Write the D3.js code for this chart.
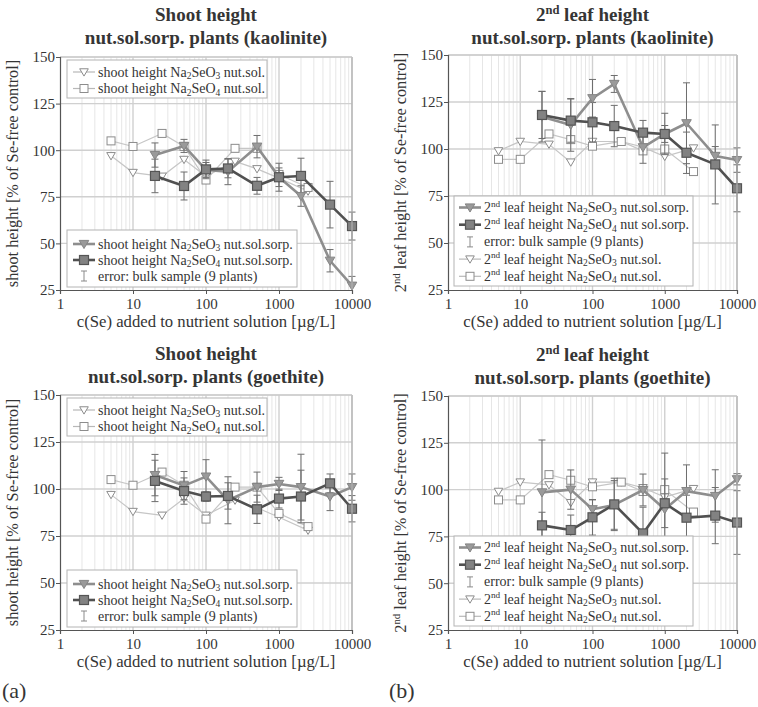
<!DOCTYPE html>
<html>
<head>
<meta charset="utf-8">
<script src="https://cdn.jsdelivr.net/npm/d3@7/dist/d3.min.js"></script>
<style>
  body { margin: 0; background: #fff; }
  text { font-family: "Liberation Serif", "Times New Roman", serif; fill: #353535; }
</style>
</head>
<body>
<svg id="chart" width="758" height="707"></svg>
<script>
// Se concentrations (µg/L)
const concNutSol = [5, 10, 25, 50, 100, 250, 500, 1000, 2500];
const concSorp = [20, 50, 100, 200, 500, 1000, 2000, 5000, 10000];
const xTicks = [1, 10, 100, 1000, 10000];
const yTicks = [25, 50, 75, 100, 125, 150];

// reference plants grown in plain nutrient solution (% of Se-free control)
const shootNutSolSeO3 = [97, 88, 86, 95, 86, 94, 90, 85, 78];
const shootNutSolSeO4 = [105, 102, 109, 102, 84, 101, 101, 87, 80];
const leafNutSolSeO3 = [99, 104, 102.5, 93, 104, 104, 101, 96, 100.5];
const leafNutSolSeO4 = [94.5, 94.5, 108, 105, 101.5, 104, 99, 100, 88];

// kaolinite sorption plants
const shootKaoSeO3 = [97.4, 102.3, 89.4, 88.5, 101.9, 85.5, 75.4, 40.7, 27.3];
const shootKaoSeO3Err = [6.5, 3.5, 4, 7, 6, 5, 5.5, 6, 5];
const shootKaoSeO4 = [86.2, 80.8, 89.7, 90.2, 80.9, 85.5, 86.2, 70.8, 59.3];
const shootKaoSeO4Err = [9, 7.5, 5, 5, 4.5, 7.5, 9.5, 12.5, 7.5];
const leafKaoSeO3 = [117.2, 112.8, 127, 134.6, 100.9, 108, 113.7, 96.3, 94.1];
const leafKaoSeO3Err = [13.5, 14, 10, 4.5, 8.5, 4.5, 21.5, 5, 6.5];
const leafKaoSeO4 = [118.1, 115.1, 114.2, 112.2, 108.7, 108, 98, 91.8, 79.1];
const leafKaoSeO4Err = [12.5, 11.5, 10.5, 11, 6.5, 11, 11, 21, 12.5];

// goethite sorption plants
const shootGoeSeO3 = [107.4, 101.8, 106.6, 94, 101, 102.7, 101, 96, 101];
const shootGoeSeO3Err = [11, 7.5, 9, 12.5, 8, 3.5, 17.5, 7.5, 7];
const shootGoeSeO4 = [104.3, 98.9, 96, 96.3, 89.2, 94.9, 96, 103, 89.5];
const shootGoeSeO4Err = [11, 7, 2.5, 7, 7.5, 5, 14, 5, 7];
const leafGoeSeO3 = [98.5, 100, 89.5, 91.8, 99.8, 89.5, 99.2, 96.6, 105.5];
const leafGoeSeO3Err = [28, 10.5, 5, 13, 8.5, 30, 14, 14, 3];
const leafGoeSeO4 = [80.9, 78.4, 85.2, 92.1, 76.6, 92.7, 85, 86.1, 82.4];
const leafGoeSeO4Err = [7, 8, 9.5, 14, 14, 13, 12, 15, 17];

const xLabel = "c(Se) added to nutrient solution [µg/L]";

const SUB = "sub", SUP = "sup";
const salt3 = ["Na", ["2", SUB], "SeO", ["3", SUB]];
const salt4 = ["Na", ["2", SUB], "SeO", ["4", SUB]];
const leafPre = ["2", ["nd", SUP], " leaf height "];

const styles = {
  nutSeO3: { kind: "nut", marker: "tri" },
  nutSeO4: { kind: "nut", marker: "sq" },
  sorpSeO3: { kind: "sorp", marker: "tri", color: "#8e8e8e", fill: "#9a9a9a", stroke: "#858585" },
  sorpSeO4: { kind: "sorp", marker: "sq", color: "#505050", fill: "#828282", stroke: "#555555" },
  err: { kind: "err" }
};

const svg = d3.select("#chart");
const defs = svg.append("defs");

// writes text made of plain / subscript / superscript pieces
function rich(sel, parts, size) {
  let shift = 0;
  parts.forEach(p => {
    const [s, mode] = Array.isArray(p) ? p : [p, null];
    const t = sel.append("tspan").text(s);
    let target = 0;
    if (mode === SUB) { t.attr("font-size", size * 0.68); target = size * 0.18; }
    else if (mode === SUP) { t.attr("font-size", size * 0.66); target = -size * 0.38; }
    if (target !== shift) { t.attr("dy", target - shift); shift = target; }
  });
}

function marker(g, type, cx, cy, st, open) {
  if (type === "tri") {
    const r = open ? 4.3 : 4.8;
    g.append("path")
      .attr("d", `M${cx - r},${cy - r * 0.75}L${cx + r},${cy - r * 0.75}L${cx},${cy + r * 0.95}Z`)
      .attr("fill", open ? "#fff" : st.fill)
      .attr("stroke", open ? "#8c8c8c" : st.stroke)
      .attr("stroke-width", 1);
  } else {
    const r = open ? 4 : 4.5;
    g.append("rect")
      .attr("x", cx - r).attr("y", cy - r).attr("width", 2 * r).attr("height", 2 * r)
      .attr("fill", open ? "#fff" : st.fill)
      .attr("stroke", open ? "#8c8c8c" : st.stroke)
      .attr("stroke-width", open ? 1 : 1.2);
  }
}

function drawPanel(p, idx) {
  const x = d3.scaleLog().domain([1, 10000]).range([p.left, p.right]);
  const y = d3.scaleLinear().domain([25, 150]).range([p.bottom, p.top]);
  const g = svg.append("g");

  // grid
  const minor = [];
  for (let k = 0; k < 4; k++) for (let m = 2; m <= 9; m++) minor.push(m * Math.pow(10, k));
  g.append("g").selectAll("line").data(minor).join("line")
    .attr("x1", d => x(d)).attr("x2", d => x(d))
    .attr("y1", p.top).attr("y2", p.bottom)
    .attr("stroke", "#e6e6e6").attr("stroke-width", 1);
  g.append("g").selectAll("line").data(xTicks.slice(1)).join("line")
    .attr("x1", d => x(d)).attr("x2", d => x(d))
    .attr("y1", p.top).attr("y2", p.bottom)
    .attr("stroke", "#d0d0d0").attr("stroke-width", 1.4);
  g.append("g").selectAll("line").data(yTicks.slice(1)).join("line")
    .attr("x1", p.left).attr("x2", p.right)
    .attr("y1", d => y(d)).attr("y2", d => y(d))
    .attr("stroke", "#d0d0d0").attr("stroke-width", 1.4);

  const clipId = "clip" + idx;
  defs.append("clipPath").attr("id", clipId).append("rect")
    .attr("x", p.left - 6).attr("y", p.top).attr("width", p.right - p.left + 12).attr("height", p.bottom - p.top);
  const data = g.append("g").attr("clip-path", `url(#${clipId})`);

  // nutrient solution reference series
  const line = d3.line().x(d => x(d[0])).y(d => y(d[1]));
  [[p.nutSeO3, "tri"], [p.nutSeO4, "sq"]].forEach(([vals, mk]) => {
    const pts = concNutSol.map((c, i) => [c, vals[i]]);
    data.append("path").attr("d", line(pts)).attr("fill", "none")
      .attr("stroke", "#c6c6c6").attr("stroke-width", 1.2);
    pts.forEach(d => marker(data, mk, x(d[0]), y(d[1]), null, true));
  });

  // error bars of sorption series
  [[p.sorpSeO3, p.sorpSeO3Err], [p.sorpSeO4, p.sorpSeO4Err]].forEach(([vals, errs]) => {
    concSorp.forEach((c, i) => {
      const cx = x(c), lo = y(vals[i] - errs[i]), hi = y(vals[i] + errs[i]);
      data.append("line").attr("x1", cx).attr("x2", cx).attr("y1", lo).attr("y2", hi)
        .attr("stroke", "#6e6e6e").attr("stroke-width", 1);
      [lo, hi].forEach(yy => data.append("line").attr("x1", cx - 3.5).attr("x2", cx + 3.5)
        .attr("y1", yy).attr("y2", yy).attr("stroke", "#6e6e6e").attr("stroke-width", 1));
    });
  });

  // sorption series
  [[p.sorpSeO3, styles.sorpSeO3], [p.sorpSeO4, styles.sorpSeO4]].forEach(([vals, st]) => {
    const pts = concSorp.map((c, i) => [c, vals[i]]);
    data.append("path").attr("d", line(pts)).attr("fill", "none")
      .attr("stroke", st.color).attr("stroke-width", 2.6).attr("stroke-linejoin", "round");
    pts.forEach(d => marker(data, st.marker, x(d[0]), y(d[1]), st, false));
  });

  // plot frame
  g.append("line").attr("x1", p.right).attr("x2", p.right).attr("y1", p.top).attr("y2", p.bottom)
    .attr("stroke", "#b0b0b0").attr("stroke-width", 1.2);
  g.append("line").attr("x1", p.left).attr("x2", p.right).attr("y1", p.top).attr("y2", p.top)
    .attr("stroke", "#c8c8c8").attr("stroke-width", 1.2);

  // axes
  const ax = g.append("g").attr("transform", `translate(0,${p.bottom})`)
    .call(d3.axisBottom(x).tickValues(xTicks).tickFormat(d3.format("d")).tickSize(4).tickPadding(4));
  const ay = g.append("g").attr("transform", `translate(${p.left},0)`)
    .call(d3.axisLeft(y).tickValues(yTicks).tickSize(4).tickPadding(1));
  [ax, ay].forEach(a => {
    a.select(".domain").attr("stroke", "#555").attr("stroke-width", 1.2);
    a.selectAll(".tick line").attr("stroke", "#555");
    a.selectAll(".tick text").attr("font-size", 15).attr("fill", "#353535")
      .attr("font-family", '"Liberation Serif", serif');
  });

  // titles and axis labels
  const cx = (p.left + p.right) / 2;
  rich(g.append("text").attr("x", cx).attr("y", p.titleY).attr("text-anchor", "middle")
    .attr("font-size", 19).attr("font-weight", "bold"), p.title1, 19);
  g.append("text").attr("x", cx).attr("y", p.titleY + 23).attr("text-anchor", "middle")
    .attr("font-size", 19).attr("font-weight", "bold").text(p.title2);
  g.append("text").attr("x", cx).attr("y", p.bottom + 37).attr("text-anchor", "middle")
    .attr("font-size", 16.7).text(xLabel);
  rich(g.append("text").attr("transform", `translate(${p.left - 42},${(p.top + p.bottom) / 2}) rotate(-90)`)
    .attr("text-anchor", "middle").attr("font-size", 16.3), p.yLabel, 16.3);

  // legends
  p.legends.forEach(lg => {
    const bx = p.left + lg.dx, by = lg.fromBottom ? p.bottom - lg.dy - lg.h : p.top + lg.dy;
    const lgG = g.append("g");
    lgG.append("rect").attr("x", bx).attr("y", by).attr("width", lg.w).attr("height", lg.h)
      .attr("fill", "#fff").attr("stroke", "#b4b4b4").attr("stroke-width", 1);
    lg.items.forEach((it, i) => {
      const yy = by + lg.first + i * lg.step;
      const st = styles[it.style];
      const lx0 = p.left + lg.lineX0, lx1 = lx0 + 22, mx = (lx0 + lx1) / 2;
      if (st.kind === "nut") {
        lgG.append("line").attr("x1", lx0).attr("x2", lx1).attr("y1", yy).attr("y2", yy)
          .attr("stroke", "#b8b8b8").attr("stroke-width", 1.2);
        marker(lgG, st.marker, mx, yy, null, true);
      } else if (st.kind === "sorp") {
        lgG.append("line").attr("x1", lx0).attr("x2", lx1).attr("y1", yy).attr("y2", yy)
          .attr("stroke", st.color).attr("stroke-width", 2.6);
        marker(lgG, st.marker, mx, yy, st, false);
      } else {
        lgG.append("line").attr("x1", mx).attr("x2", mx).attr("y1", yy - 5).attr("y2", yy + 5)
          .attr("stroke", "#8a8a8a");
        [yy - 5, yy + 5].forEach(v => lgG.append("line").attr("x1", mx - 3).attr("x2", mx + 3)
          .attr("y1", v).attr("y2", v).attr("stroke", "#8a8a8a"));
      }
      rich(lgG.append("text").attr("x", lx1 + 3).attr("y", yy + 4.5).attr("font-size", 14), it.label, 14);
    });
  });
}

const shootLegends = [
  { dx: 7, dy: 3, w: 200, h: 38, first: 12, step: 16.5, lineX0: 13, items: [
    { style: "nutSeO3", label: ["shoot height ", ...salt3, " nut.sol."] },
    { style: "nutSeO4", label: ["shoot height ", ...salt4, " nut.sol."] } ] },
  { dx: 7, dy: 3, fromBottom: true, w: 230, h: 57, first: 14, step: 16, lineX0: 13, items: [
    { style: "sorpSeO3", label: ["shoot height ", ...salt3, " nut.sol.sorp."] },
    { style: "sorpSeO4", label: ["shoot height ", ...salt4, " nut.sol.sorp."] },
    { style: "err", label: ["error: bulk sample (9 plants)"] } ] }
];
const leafLegends = [
  { dx: 6, dy: 4, fromBottom: true, w: 239, h: 90, first: 11.5, step: 17.2, lineX0: 11, items: [
    { style: "sorpSeO3", label: [...leafPre, ...salt3, " nut.sol.sorp."] },
    { style: "sorpSeO4", label: [...leafPre, ...salt4, " nut sol.sorp."] },
    { style: "err", label: ["error: bulk sample (9 plants)"] },
    { style: "nutSeO3", label: [...leafPre, ...salt3, " nut.sol."] },
    { style: "nutSeO4", label: [...leafPre, ...salt4, " nut.sol."] } ] }
];

const panels = [
  { left: 60, right: 352, top: 57, bottom: 290, titleY: 21,
    title1: ["Shoot height"], title2: "nut.sol.sorp. plants (kaolinite)",
    yLabel: ["shoot height [% of Se-free control]"],
    nutSeO3: shootNutSolSeO3, nutSeO4: shootNutSolSeO4,
    sorpSeO3: shootKaoSeO3, sorpSeO3Err: shootKaoSeO3Err,
    sorpSeO4: shootKaoSeO4, sorpSeO4Err: shootKaoSeO4Err, legends: shootLegends },
  { left: 448, right: 737, top: 55, bottom: 290, titleY: 21,
    title1: ["2", ["nd", SUP], " leaf height"], title2: "nut.sol.sorp. plants (kaolinite)",
    yLabel: ["2", ["nd", SUP], " leaf height [% of Se-free control]"],
    nutSeO3: leafNutSolSeO3, nutSeO4: leafNutSolSeO4,
    sorpSeO3: leafKaoSeO3, sorpSeO3Err: leafKaoSeO3Err,
    sorpSeO4: leafKaoSeO4, sorpSeO4Err: leafKaoSeO4Err, legends: leafLegends },
  { left: 60, right: 352, top: 395, bottom: 630, titleY: 360,
    title1: ["Shoot height"], title2: "nut.sol.sorp. plants (goethite)",
    yLabel: ["shoot height [% of Se-free control]"],
    nutSeO3: shootNutSolSeO3, nutSeO4: shootNutSolSeO4,
    sorpSeO3: shootGoeSeO3, sorpSeO3Err: shootGoeSeO3Err,
    sorpSeO4: shootGoeSeO4, sorpSeO4Err: shootGoeSeO4Err, legends: shootLegends },
  { left: 448, right: 737, top: 396, bottom: 630, titleY: 361,
    title1: ["2", ["nd", SUP], " leaf height"], title2: "nut.sol.sorp. plants (goethite)",
    yLabel: ["2", ["nd", SUP], " leaf height [% of Se-free control]"],
    nutSeO3: leafNutSolSeO3, nutSeO4: leafNutSolSeO4,
    sorpSeO3: leafGoeSeO3, sorpSeO3Err: leafGoeSeO3Err,
    sorpSeO4: leafGoeSeO4, sorpSeO4Err: leafGoeSeO4Err, legends: leafLegends }
];

panels.forEach(drawPanel);

// sub-figure labels
svg.append("text").attr("x", 2).attr("y", 698).attr("font-size", 22).text("(a)");
svg.append("text").attr("x", 389).attr("y", 698).attr("font-size", 22).text("(b)");
</script>
</body>
</html>
